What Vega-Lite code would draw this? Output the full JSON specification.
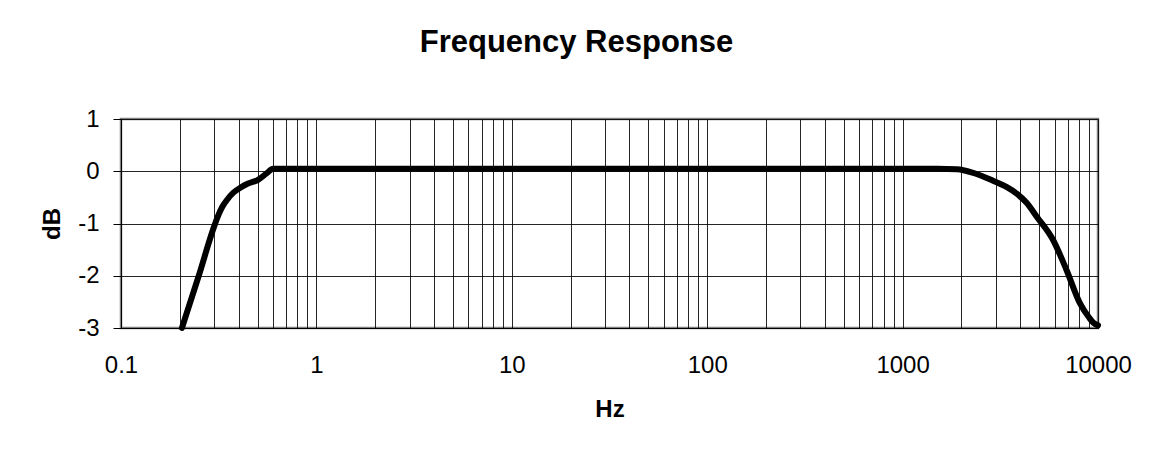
{
  "$schema": "https://vega.github.io/schema/vega-lite/v6.json",
  "autosize": "none",
  "width": 977,
  "height": 209,
  "padding": {"left": 121, "top": 119, "right": 53, "bottom": 127},
  "background": "white",
  "title": {
    "text": "Frequency Response",
    "font": "Liberation Sans",
    "fontSize": 31,
    "fontWeight": "bold",
    "color": "black",
    "anchor": "middle",
    "frame": "group",
    "dx": -33,
    "offset": 48
  },
  "config": {
    "view": {"stroke": "#808080", "strokeWidth": 2.5},
    "axis": {
      "labelFont": "Liberation Sans",
      "labelFontSize": 24,
      "labelColor": "black",
      "titleFont": "Liberation Sans",
      "titleFontSize": 24,
      "titleFontWeight": "bold",
      "titleColor": "black",
      "gridColor": "#000000",
      "gridWidth": 1,
      "gridOpacity": 0.85,
      "domainColor": "#000000",
      "tickColor": "#000000"
    }
  },
  "data": {
    "values": [
      {"hz": 0.205, "db": -3.0},
      {"hz": 0.25, "db": -2.0},
      {"hz": 0.3, "db": -1.05},
      {"hz": 0.315, "db": -0.84},
      {"hz": 0.33, "db": -0.68},
      {"hz": 0.35, "db": -0.54},
      {"hz": 0.376, "db": -0.41},
      {"hz": 0.41, "db": -0.31},
      {"hz": 0.444, "db": -0.24},
      {"hz": 0.5, "db": -0.17},
      {"hz": 0.56, "db": -0.03},
      {"hz": 0.6, "db": 0.05},
      {"hz": 0.7, "db": 0.05},
      {"hz": 1, "db": 0.05},
      {"hz": 10, "db": 0.05},
      {"hz": 100, "db": 0.05},
      {"hz": 1000, "db": 0.05},
      {"hz": 1500, "db": 0.05},
      {"hz": 1900, "db": 0.04},
      {"hz": 2300, "db": -0.03},
      {"hz": 2900, "db": -0.18},
      {"hz": 3400, "db": -0.3},
      {"hz": 3840, "db": -0.43},
      {"hz": 4300, "db": -0.6},
      {"hz": 4860, "db": -0.87},
      {"hz": 5900, "db": -1.32},
      {"hz": 6900, "db": -1.89},
      {"hz": 8090, "db": -2.53},
      {"hz": 9000, "db": -2.8},
      {"hz": 9470, "db": -2.9},
      {"hz": 10000, "db": -2.95}
    ]
  },
  "mark": {"type": "line", "color": "black", "strokeWidth": 6, "interpolate": "monotone", "strokeCap": "round", "clip": false},
  "encoding": {
    "x": {
      "field": "hz",
      "type": "quantitative",
      "scale": {"type": "log", "domain": [0.1, 10000], "nice": false},
      "axis": {
        "title": "Hz",
        "values": [0.1, 0.2, 0.3, 0.4, 0.5, 0.6, 0.7, 0.8, 0.9, 1, 2, 3, 4, 5, 6, 7, 8, 9, 10, 20, 30, 40, 50, 60, 70, 80, 90, 100, 200, 300, 400, 500, 600, 700, 800, 900, 1000, 2000, 3000, 4000, 5000, 6000, 7000, 8000, 9000, 10000],
        "format": "~g",
        "labelExpr": "indexof([0.1, 1, 10, 100, 1000, 10000], datum.value) >= 0 ? datum.label : ''",
        "labelOverlap": false,
        "labelFlush": false,
        "ticks": false,
        "labelPadding": 25,
        "titlePadding": 20,
        "grid": true
      }
    },
    "y": {
      "field": "db",
      "type": "quantitative",
      "scale": {"domain": [-3, 1], "nice": false, "zero": false},
      "axis": {
        "title": "dB",
        "values": [-3, -2, -1, 0, 1],
        "labelExpr": "'' + datum.value",
        "tickSize": 8,
        "labelPadding": 14,
        "titlePadding": 13,
        "grid": true
      }
    }
  }
}
